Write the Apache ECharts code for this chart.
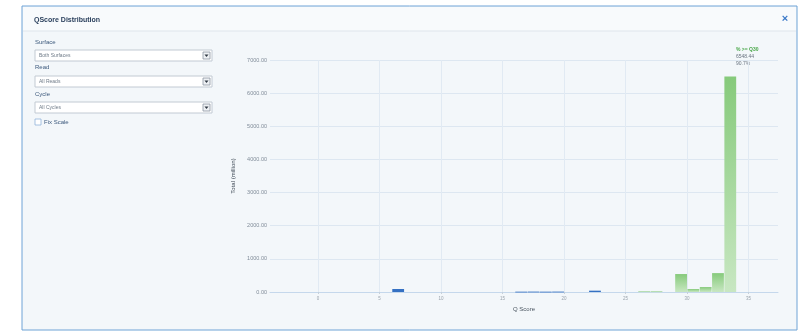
<!DOCTYPE html>
<html><head><meta charset="utf-8">
<script src="https://cdn.jsdelivr.net/npm/echarts@6/dist/echarts.min.js"></script>
<style>html,body{margin:0;padding:0;background:#fff}#c{width:803px;height:334px}</style>
</head><body><div id="c"></div>
<script>
// ---- data ----
const blueQ = [7, 17, 18, 19, 20, 23];
const blueCounts = [90, 10, 12, 10, 12, 40];
const greenQ = [27, 28, 30, 31, 32, 33, 34];
const greenCounts = [18, 18, 542, 90, 150, 570, 6500];
const xTicks = [0, 5, 10, 15, 20, 25, 30, 35];
const yTicks = [0, 1000, 2000, 3000, 4000, 5000, 6000, 7000];
const summaryLines = ['% >= Q30', '6548.44', '90.7%'];
const surfaceOptions = ['Both Surfaces'];
const readOptions = ['All Reads'];
const cycleOptions = ['All Cycles'];

const chart = echarts.init(document.getElementById('c'), null, {renderer: 'canvas'});

function histItem(fill) {
  return function (params, api) {
    const q = api.value(0), v = api.value(1);
    const p0 = api.coord([q - 1, 0]);
    const p1 = api.coord([q, v]);
    return {
      type: 'rect',
      shape: {x: p0[0] + 0.5, y: p1[1], width: p1[0] - p0[0] - 0.5, height: Math.max(p0[1] - p1[1], 0.8)},
      style: {fill: fill}
    };
  };
}

const font = 'Liberation Sans, Arial, sans-serif';
const greenFill = new echarts.graphic.LinearGradient(0, 0, 0, 1, [
  {offset: 0, color: '#86ca7b'}, {offset: 1, color: '#c8e7c2'}]);

function selectBox(y, label) {
  return [
    {type: 'rect', shape: {x: 35, y: y, width: 177, height: 11}, style: {fill: '#fff', stroke: '#c2cad3', lineWidth: 1}},
    {type: 'text', x: 39, y: y + 5.5, style: {text: label, font: '5px ' + font, fill: '#6f7b88', verticalAlign: 'middle'}},
    {type: 'rect', shape: {x: 203, y: y + 2, width: 7, height: 7}, style: {fill: '#eef1f4', stroke: '#8e98a3', lineWidth: 0.8}},
    {type: 'polygon', shape: {points: [[204.5, y + 4.5], [208.5, y + 4.5], [206.5, y + 7]]}, style: {fill: '#2f3843'}}
  ];
}

const graphics = [
  {type: 'rect', z: -10, shape: {x: 22, y: 6, width: 775, height: 324}, style: {fill: '#f3f7fa', stroke: '#6fa3d6', lineWidth: 1}},
  {type: 'rect', z: -9, shape: {x: 23, y: 7, width: 773, height: 24}, style: {fill: '#f8fafc'}},
  {type: 'line', z: -8, shape: {x1: 23, y1: 31, x2: 796, y2: 31}, style: {stroke: '#dfe6ec', lineWidth: 1}},
  {type: 'text', x: 34, y: 20, style: {text: 'QScore Distribution', font: 'bold 7px ' + font, fill: '#2a3f5c', verticalAlign: 'middle'}},
  {type: 'text', x: 785, y: 19, style: {text: '×', font: 'bold 11px ' + font, fill: '#3a78c8', align: 'center', verticalAlign: 'middle'}},
  {type: 'text', x: 35, y: 42, style: {text: 'Surface', font: '6px ' + font, fill: '#3d5a7d', verticalAlign: 'middle'}},
  ...selectBox(50, surfaceOptions[0]),
  {type: 'text', x: 35, y: 67, style: {text: 'Read', font: '6px ' + font, fill: '#3d5a7d', verticalAlign: 'middle'}},
  ...selectBox(76, readOptions[0]),
  {type: 'text', x: 35, y: 94, style: {text: 'Cycle', font: '6px ' + font, fill: '#3d5a7d', verticalAlign: 'middle'}},
  ...selectBox(102, cycleOptions[0]),
  {type: 'rect', shape: {x: 35, y: 119, width: 6, height: 6}, style: {fill: '#fff', stroke: '#8fb3d9', lineWidth: 0.8}},
  {type: 'text', x: 44, y: 122, style: {text: 'Fix Scale', font: '6px ' + font, fill: '#3d5a7d', verticalAlign: 'middle'}},
  {type: 'text', x: 736, y: 50, style: {text: summaryLines[0], font: 'bold 5px ' + font, fill: '#4aa84a', verticalAlign: 'middle'}},
  {type: 'text', x: 736, y: 57, style: {text: summaryLines[1], font: '5px ' + font, fill: '#6a7480', verticalAlign: 'middle'}},
  {type: 'text', x: 736, y: 64, style: {text: summaryLines[2], font: '5px ' + font, fill: '#6a7480', verticalAlign: 'middle'}}
];

chart.setOption({
  animation: false,
  backgroundColor: '#fff',
  grid: {left: 270, right: 25, top: 60, bottom: 42, containLabel: false},
  xAxis: {
    type: 'value', min: -3.9, max: 37.4,
    name: 'Q Score', nameLocation: 'middle', nameGap: 14,
    nameTextStyle: {fontSize: 6, color: '#4a5560', fontFamily: font},
    axisLine: {show: true, lineStyle: {color: '#c5d8ec', width: 1}},
    axisTick: {show: true, customValues: xTicks, length: 2, lineStyle: {color: '#c5d0da'}},
    axisLabel: {customValues: xTicks, fontSize: 4.5, color: '#9aa3ad', margin: 4, fontFamily: font},
    splitLine: {show: true, lineStyle: {color: '#e1eaf3', width: 1}}
  },
  yAxis: {
    type: 'value', min: 0, max: 7000, interval: 1000,
    name: 'Total (million)', nameLocation: 'middle', nameGap: 32, nameRotate: 90,
    nameTextStyle: {fontSize: 6, color: '#3f4a56', fontFamily: font},
    axisLine: {show: false}, axisTick: {show: false},
    axisLabel: {formatter: v => v.toFixed(2), fontSize: 5.5, color: '#808c99', margin: 3, fontFamily: font},
    splitLine: {show: true, lineStyle: {color: '#dde7f1', width: 1}}
  },
  series: [
    {type: 'custom', renderItem: histItem('#3571c3'), data: blueQ.map((q, i) => [q, blueCounts[i]]), encode: {x: 0, y: 1}},
    {type: 'custom', renderItem: histItem(greenFill), data: greenQ.map((q, i) => [q, greenCounts[i]]), encode: {x: 0, y: 1}}
  ],
  graphic: graphics
});
</script></body></html>
